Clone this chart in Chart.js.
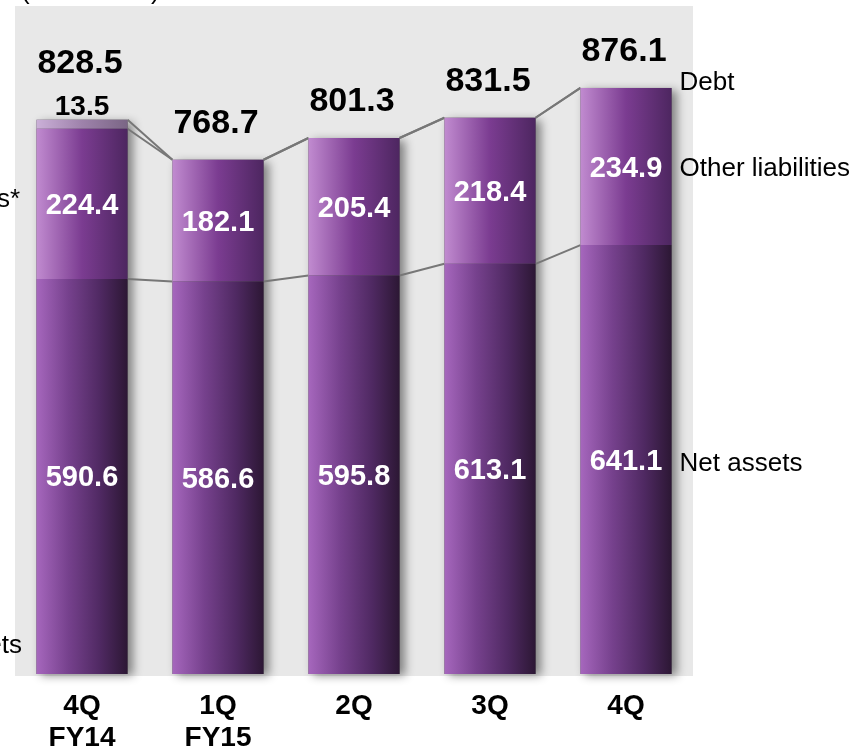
<!DOCTYPE html>
<html lang="en">
<head>
  <meta charset="UTF-8">
  <title>Net assets and liabilities</title>
  <script src="https://cdn.jsdelivr.net/npm/chart.js"></script>
  <style>
    html, body { margin: 0; padding: 0; background: #ffffff; }
    #wrap { width: 858px; height: 750px; }
  </style>
</head>
<body>
  <div id="wrap"><canvas id="myChart" width="858" height="750"></canvas></div>
  <script>
    const quarters = [['4Q', 'FY14'], ['1Q', 'FY15'], '2Q', '3Q', '4Q'];
    const netAssets = [590.6, 586.6, 595.8, 613.1, 641.1];
    const otherLiabilities = [224.4, 182.1, 205.4, 218.4, 234.9];
    const debt = [13.5, 0, 0, 0, 0];
    const totals = [828.5, 768.7, 801.3, 831.5, 876.1];
    const seriesNames = ['Net assets', 'Other liabilities', 'Debt'];
    const unitNote = '(JPY billion)';

    const FONT = '"Liberation Sans", Arial, sans-serif';
    const barPct = 0.67;

    function barGradient(stops, fallback) {
      return function (c) {
        const chart = c.chart;
        const area = chart.chartArea;
        if (!area || c.dataIndex === undefined) return fallback;
        const x = chart.scales.x.getPixelForValue(c.dataIndex);
        const w = (area.right - area.left) / quarters.length * barPct;
        const g = chart.ctx.createLinearGradient(x - w / 2, 0, x + w / 2, 0);
        stops.forEach(s => g.addColorStop(s[0], s[1]));
        return g;
      };
    }

    const bgPlugin = {
      id: 'bg',
      beforeDraw(chart) {
        const ctx = chart.ctx, a = chart.chartArea;
        ctx.save();
        ctx.fillStyle = '#e8e8e8';
        ctx.fillRect(a.left + 1, a.top + 1, a.right - a.left - 2, a.bottom - a.top + 1);
        // unit note, only the bottom of it shows
        ctx.fillStyle = '#000';
        ctx.font = '26px ' + FONT;
        ctx.textAlign = 'left';
        ctx.textBaseline = 'alphabetic';
        ctx.fillText(unitNote, 21, -1);
        // clipped labels of the left side
        ctx.textAlign = 'right';
        ctx.fillText('Other liabilities*', 20, 207);
        ctx.fillText('Total assets', 22, 653);
        ctx.restore();
      },
      beforeDatasetsDraw(chart) {
        const ctx = chart.ctx;
        const top = chart.getDatasetMeta(2).data;
        const base = chart.getDatasetMeta(0).data;
        ctx.save();
        // soft shadow behind each stack
        ctx.fillStyle = '#555';
        ctx.shadowColor = 'rgba(0,0,0,0.45)';
        ctx.shadowBlur = 9;
        ctx.shadowOffsetX = 5;
        ctx.shadowOffsetY = 2;
        top.forEach((el, i) => {
          const w = el.width;
          ctx.fillRect(el.x - w / 2, el.y, w, base[i].base - el.y);
        });
        ctx.restore();
        // connector lines between the segment tops
        ctx.save();
        ctx.strokeStyle = '#777777';
        ctx.lineWidth = 2;
        for (let d = 0; d < 3; d++) {
          const els = chart.getDatasetMeta(d).data;
          for (let i = 0; i < els.length - 1; i++) {
            const a = els[i], b = els[i + 1];
            ctx.beginPath();
            ctx.moveTo(a.x + a.width / 2, a.y);
            ctx.lineTo(b.x - b.width / 2, b.y);
            ctx.stroke();
          }
        }
        ctx.restore();
      },
      afterDatasetsDraw(chart) {
        const ctx = chart.ctx;
        const m0 = chart.getDatasetMeta(0).data;
        const m1 = chart.getDatasetMeta(1).data;
        const m2 = chart.getDatasetMeta(2).data;
        ctx.save();
        ctx.textAlign = 'center';
        ctx.textBaseline = 'middle';
        // white values inside the segments
        ctx.fillStyle = '#ffffff';
        ctx.font = 'bold 29px ' + FONT;
        m0.forEach((el, i) => ctx.fillText(netAssets[i].toFixed(1), el.x, (el.y + el.base) / 2 + 2));
        m1.forEach((el, i) => ctx.fillText(otherLiabilities[i].toFixed(1), el.x, (el.y + el.base) / 2 + 2));
        // debt above the bar, totals on top
        ctx.fillStyle = '#000000';
        m2.forEach((el, i) => {
          let off = 36;
          if (debt[i] > 0) {
            ctx.font = 'bold 28px ' + FONT;
            ctx.fillText(debt[i].toFixed(1), el.x, el.y - 12);
            off = 56;
          }
          ctx.font = 'bold 34px ' + FONT;
          ctx.fillText(totals[i].toFixed(1), el.x - 2, el.y - off);
        });
        // category labels
        ctx.font = 'bold 28px ' + FONT;
        const xs = chart.scales.x;
        quarters.forEach((q, i) => {
          const x = xs.getPixelForValue(i);
          const lines = Array.isArray(q) ? q : [q];
          lines.forEach((t, j) => ctx.fillText(t, x, 706 + j * 32));
        });
        // series names at the right
        const last = quarters.length - 1;
        ctx.font = '26px ' + FONT;
        ctx.textAlign = 'left';
        const rx = m0[last].x + m0[last].width / 2 + 8;
        ctx.fillText(seriesNames[2], rx, 83);
        ctx.fillText(seriesNames[1], rx, (m1[last].y + m1[last].base) / 2 + 2);
        ctx.fillText(seriesNames[0], rx, (m0[last].y + m0[last].base) / 2 + 4);
        ctx.restore();
      }
    };

    const ctx = document.getElementById('myChart').getContext('2d');
    const myChart = new Chart(ctx, {
      type: 'bar',
      data: {
        labels: quarters,
        datasets: [{
          label: seriesNames[0],
          data: netAssets,
          backgroundColor: barGradient([[0, '#a667bd'], [0.35, '#76418d'], [0.7, '#4f2962'], [1, '#2c1734']], '#5e3272'),
          borderWidth: 0
        }, {
          label: seriesNames[1],
          data: otherLiabilities,
          backgroundColor: barGradient([[0, '#c18bd0'], [0.5, '#7b3c91'], [1, '#4d2660']], '#7b3c91'),
          borderWidth: 0
        }, {
          label: seriesNames[2],
          data: debt,
          backgroundColor: barGradient([[0, '#cbb0d8'], [0.5, '#9e82ab'], [1, '#7a6685']], '#9e82ab'),
          borderWidth: 0
        }]
      },
      options: {
        responsive: false,
        animation: false,
        layout: { padding: { left: 14, right: 164, top: 5, bottom: 76 } },
        plugins: { legend: { display: false }, tooltip: { enabled: false } },
        datasets: { bar: { barPercentage: barPct, categoryPercentage: 1 } },
        scales: {
          x: { stacked: true, display: false },
          y: { stacked: true, display: false, min: 0, max: 1000 }
        }
      },
      plugins: [bgPlugin]
    });
  </script>
</body>
</html>
